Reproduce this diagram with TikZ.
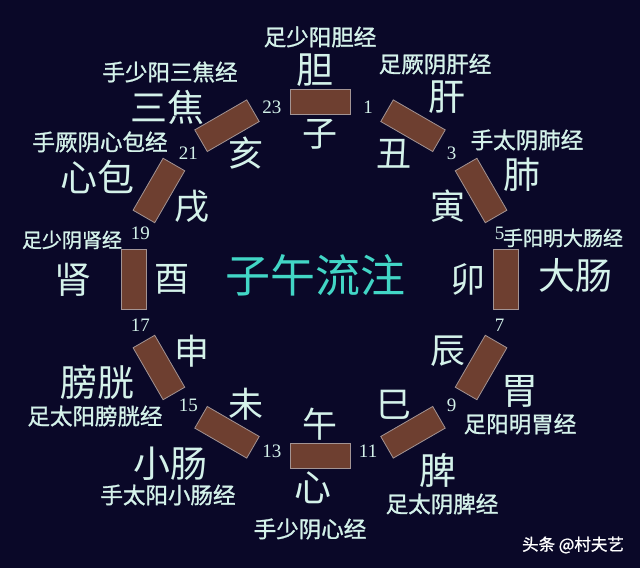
\documentclass[tikz,border=0pt]{standalone}
\usepackage{fontspec}
\setmainfont{Liberation Serif}
\newfontfamily\cjk{Noto Sans CJK SC}
\newfontfamily\cjkb[FakeBold=1.2]{Noto Sans CJK SC}

\definecolor{bgnavy}{HTML}{0A0828}
\definecolor{boxbrown}{HTML}{6E3F30}
\definecolor{boxedge}{HTML}{A39494}
\definecolor{mint}{HTML}{D4F2EA}
\definecolor{titlecyan}{HTML}{42D6C6}

\begin{document}
\begin{tikzpicture}[x=1pt, y=1pt,
        hourbox/.style = {draw=boxedge, fill=boxbrown, line width=0.8pt,
          minimum width=60pt, minimum height=25pt, inner sep=0pt},
        branch/.style = {text=mint, inner sep=1pt, font=\cjk\fontsize{35}{35}\selectfont},
        organ/.style = {text=mint, inner sep=1pt, font=\cjk\fontsize{37}{37}\selectfont},
        meridian/.style = {text=mint, inner sep=1pt, font=\cjkb\fontsize{22.5}{22.5}\selectfont},
        smallmeridian/.style = {meridian, font=\cjkb\fontsize{20}{20}\selectfont},
        hour/.style = {text=mint, inner sep=1pt, font=\fontsize{19}{19}\selectfont}]
        \fill [bgnavy] (0,0) rectangle (640,568);
        \useasboundingbox (0,0) rectangle (640,568);
        \coordinate (o) at (320,289);
        % twelve two-hour boxes with the earthly branches
        \foreach \k/\br in {0/子,1/丑,2/寅,3/卯,4/辰,5/巳,6/午,7/未,8/申,9/酉,10/戌,11/亥} {
          \pgfmathsetmacro\ang{90-30*\k}
          \pgfmathtruncatemacro\hr{2*\k+1}
          \node [hourbox, rotate=\ang-90] (box\k) at ([shift={(\ang:186 and 177)}]o) {};
          \node [branch] (br\k) at ([shift={(\ang:148 and 145)}]o) {\br};
          \node [hour] (hr\k) at ([shift={(\ang-15:186 and 178)}]o) {\hr};
        }
        \node [text=titlecyan, font=\cjk\fontsize{45}{45}\selectfont] (title) at (315,293) {子午流注};
        % organs
        \node [organ] (gb) at (315,498) {胆};
        \node [organ] (lv) at (447,471) {肝};
        \node [organ] (lu) at (522,393) {肺};
        \node [organ] (li) at (575,293) {大肠};
        \node [organ] (st) at (520,177) {胃};
        \node [organ] (sp) at (438,98) {脾};
        \node [organ] (ht) at (313,80) {心};
        \node [organ] (si) at (170,104) {小肠};
        \node [organ] (bl) at (97,186) {膀胱};
        \node [organ] (kd) at (73,288) {肾};
        \node [organ] (pc) at (97,391) {心包};
        \node [organ] (sj) at (167,461) {三焦};
        % meridians
        \node [meridian] (mgb) at (320,531) {足少阳胆经};
        \node [meridian] (mlv) at (435,504) {足厥阴肝经};
        \node [meridian] (mlu) at (527,428) {手太阴肺经};
        \node [smallmeridian] (mli) at (563,330) {手阳明大肠经};
        \node [meridian] (mst) at (520,144) {足阳明胃经};
        \node [meridian] (msp) at (442,64) {足太阴脾经};
        \node [meridian] (mht) at (310,39) {手少阴心经};
        \node [meridian] (msi) at (168,73) {手太阳小肠经};
        \node [meridian] (mbl) at (95,152) {足太阳膀胱经};
        \node [smallmeridian] (mkd) at (72,328) {足少阴肾经};
        \node [meridian] (mpc) at (100,426) {手厥阴心包经};
        \node [meridian] (msj) at (170,496) {手少阳三焦经};
        \node [text=white, font=\cjkb\fontsize{16.5}{16.5}\selectfont] (mark) at (573,23) {头条 @村夫艺};
      \end{tikzpicture}
\end{document}
